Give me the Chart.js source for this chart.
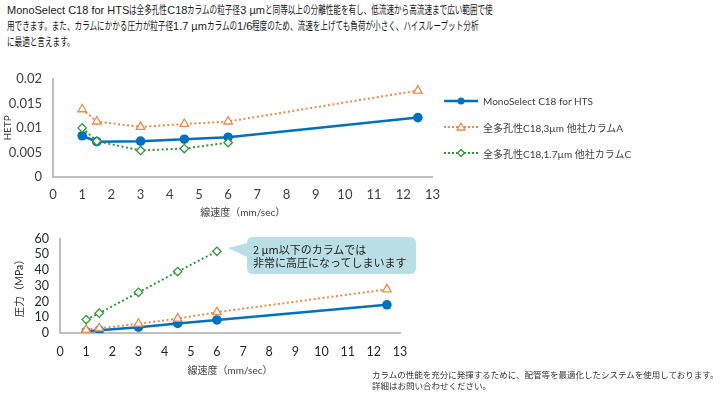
<!DOCTYPE html>
<html><head><meta charset="utf-8">
<script src="https://cdn.jsdelivr.net/npm/chart.js@4/dist/chart.umd.min.js"></script>
<style>
html,body{margin:0;padding:0;background:#fff;width:727px;height:399px;overflow:hidden;position:relative;}
canvas{position:absolute;}
.para{position:absolute;left:7px;top:2px;font-family:"Liberation Sans","Noto Sans CJK JP",sans-serif;font-size:11px;line-height:16px;color:#1a1a1a;white-space:nowrap;}
.para .cj{display:inline-block;transform-origin:0 0;font-size:11.5px;}
.legend{position:absolute;left:443px;font-family:Lato,"Noto Sans CJK JP",sans-serif;font-size:10px;color:#404040;white-space:nowrap;display:flex;align-items:center;height:14px;}
.legend svg{margin-right:4px;}
.note{position:absolute;left:372px;top:369px;font-family:"Noto Sans CJK JP",sans-serif;font-size:8.5px;line-height:11px;color:#333;white-space:nowrap;}
.callout{position:absolute;left:253px;top:243px;font-family:"Noto Sans CJK JP",sans-serif;font-size:11px;line-height:13px;color:#222;white-space:nowrap;}
</style></head>
<body>
<div class="para" id="para"><div>MonoSelect C18 for HTSは全多孔性C18カラムの粒子径3 µmと同等以上の分離性能を有し、低流速から高流速まで広い範囲で使</div><div>用できます。また、カラムにかかる圧力が粒子径1.7 µmカラムの1/6程度のため、流速を上げても負荷が小さく、ハイスループット分析</div><div>に最適と言えます。</div></div>

<canvas id="c1" width="450" height="160" style="left:0;top:60px;width:450px;height:160px"></canvas>
<canvas id="c2" width="420" height="160" style="left:0;top:220px;width:420px;height:160px"></canvas>

<div class="legend" style="top:94px"><svg width="36" height="10"><line x1="1" y1="5" x2="35" y2="5" stroke="#0070c0" stroke-width="2.5"/><circle cx="18" cy="5" r="3.5" fill="#0070c0"/></svg>MonoSelect C18 for HTS</div>
<div class="legend" style="top:120px"><svg width="36" height="10"><line x1="1" y1="5" x2="35" y2="5" stroke="#f0894a" stroke-width="2" stroke-dasharray="2,2"/><polygon points="18,1 22,8 14,8" fill="#fff" stroke="#f0894a" stroke-width="1.3"/></svg>全多孔性C18,3µm 他社カラムA</div>
<div class="legend" style="top:146px"><svg width="36" height="10"><line x1="1" y1="5" x2="35" y2="5" stroke="#2e9a38" stroke-width="2" stroke-dasharray="2,2"/><polygon points="18,1.5 21.5,5 18,8.5 14.5,5" fill="#fff" stroke="#2e9a38" stroke-width="1.3"/></svg>全多孔性C18,1.7µm 他社カラムC</div>

<svg style="position:absolute;left:225px;top:233px" width="200" height="46">
<path d="M28,4 H185 Q191,4 191,10 V35 Q191,41 185,41 H28 Q22,41 22,35 V24 L3,15 L22,10 Q22,4 28,4 Z" fill="#b9dfe5"/>
</svg>
<div class="callout">2 µm以下のカラムでは<br>非常に高圧になってしまいます</div>

<div class="note">カラムの性能を充分に発揮するために、配管等を最適化したシステムを使用しております。<br>詳細はお問い合わせください。</div>

<script>
const velocity = [1, 1.5, 3, 4.5, 6, 12.5];
const velocityC = [1, 1.5, 3, 4.5, 6];
const seriesNames = ['MonoSelect C18 for HTS', '全多孔性C18,3µm 他社カラムA', '全多孔性C18,1.7µm 他社カラムC'];
const hetpMono = [0.0084, 0.0072, 0.0073, 0.0077, 0.0081, 0.0121];
const hetpA = [0.0138, 0.0113, 0.0102, 0.0108, 0.0113, 0.0176];
const hetpC = [0.0100, 0.0073, 0.0054, 0.0058, 0.0070];
const pressMono = [0.8, 1.8, 3.7, 6.1, 8.3, 17.9];
const pressA = [2.0, 3.0, 5.9, 9.1, 13.2, 27.7];
const pressC = [8.5, 12.6, 25.8, 39.0, 51.9];
const hetpTicks = ['0', '0.005', '0.01', '0.015', '0.02'];
const pressTicks = ['0', '10', '20', '30', '40', '50', '60'];
const xTitle = '線速度（mm/sec）';

// narrow the Japanese glyph runs of the intro paragraph (reference uses a condensed CJK face)
(function(){
  const S = 0.66;
  const re = /([\u3000-\u30ff\u4e00-\u9fff\uff00-\uffef]+)/;
  document.querySelectorAll('#para > div').forEach(line => {
    const parts = line.textContent.split(re);
    line.textContent = '';
    parts.forEach(p => {
      if (!p) return;
      if (re.test(p)) {
        const sp = document.createElement('span');
        sp.className = 'cj'; sp.textContent = p;
        line.appendChild(sp);
        const w = sp.getBoundingClientRect().width;
        sp.style.transform = 'scaleX(' + S + ')';
        sp.style.marginRight = (-(1 - S) * w) + 'px';
      } else {
        line.appendChild(document.createTextNode(p));
      }
    });
  });
})();

const FONT = 'Lato, "Noto Sans CJK JP", sans-serif';
Chart.defaults.font.family = FONT;
Chart.defaults.devicePixelRatio = 1;

function pts(xs, ys){ return ys.map((y,i)=>({x:xs[i], y:y})); }

function makeDatasets(m, a, c){
  return [
    {label: seriesNames[0], data: pts(velocity, m), borderColor:'#0070c0', backgroundColor:'#0070c0', borderWidth:2.5, pointStyle:'circle', pointRadius:4.8, pointBorderWidth:0, order:2},
    {label: seriesNames[1], data: pts(velocity, a), borderColor:'#f0894a', backgroundColor:'#ffffff', borderWidth:2, borderDash:[2,2.5], pointStyle:'triangle', pointRadius:5, pointBorderWidth:1.3, order:1},
    {label: seriesNames[2], data: pts(velocityC, c), borderColor:'#2e9a38', backgroundColor:'#ffffff', borderWidth:2, borderDash:[2,2.5], pointStyle:'rectRot', pointRadius:4.2, pointBorderWidth:1.3, order:0}
  ];
}

function makeChart(id, datasets, cfg){
  return new Chart(document.getElementById(id), {
    type:'line',
    data:{datasets},
    options:{
      responsive:false, animation:false,
      layout:{padding:{top:15, right:cfg.padRight, left:0, bottom:0}},
      plugins:{legend:{display:false}, tooltip:{enabled:false}},
      scales:{
        x:{type:'linear', min:0, max:13,
           grid:{display:false, drawTicks:false},
           border:{color:'#bfbfbf', width:2},
           ticks:{stepSize:1, autoSkip:false, maxRotation:0, padding:cfg.xPad, color:cfg.tickColor, font:{size:cfg.tickSize}},
           title:{display:true, text:xTitle, color:'#404040', font:{size:10}, padding:{top:0,bottom:cfg.xTitlePad}},
           afterFit:(s)=>{s.height = cfg.xH;}},
        y:{type:'linear', min:0, max:cfg.yMax,
           grid:{display:false, drawTicks:false},
           border:{color:'#bfbfbf', width:2},
           ticks:{stepSize:cfg.yStep, autoSkip:false, padding:11, color:cfg.tickColor, font:{size:cfg.tickSize},
                  callback:(v, i)=>cfg.yLabels[i]},
           title:{display:true, text:cfg.yTitle, color:cfg.yTitleColor, font:{size:cfg.yTitleSize}, padding:{top:cfg.yTitlePad,bottom:0}},
           afterFit:(s)=>{s.width = cfg.yW;}}
      }
    }
  });
}

makeChart('c1', makeDatasets(hetpMono, hetpA, hetpC), {
  padRight:15, xH:43, yW:53, xPad:10, tickColor:'#404040', tickSize:13, xTitlePad:1,
  yMax:0.02, yStep:0.005, yLabels:hetpTicks, yTitle:'HETP', yTitleSize:10, yTitlePad:2, yTitleColor:'#404040'
});
makeChart('c2', makeDatasets(pressMono, pressA, pressC), {
  padRight:20, xH:47, yW:60, xPad:11, tickColor:'#1e2330', tickSize:12.5, xTitlePad:3,
  yMax:60, yStep:10, yLabels:pressTicks, yTitle:'圧力（MPa）', yTitleSize:10.5, yTitlePad:13, yTitleColor:'#262a33'
});
</script>
</body></html>
